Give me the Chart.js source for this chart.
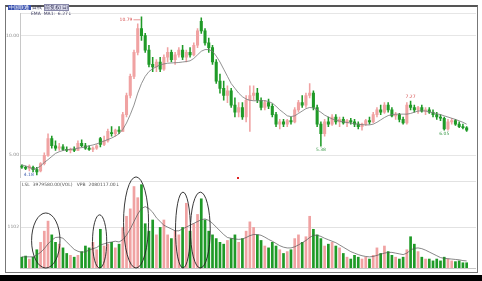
<!DOCTYPE html>
<html>
<head>
<meta charset="utf-8">
<script src="https://cdn.jsdelivr.net/npm/chart.js@4.4.0/dist/chart.umd.min.js"></script>
<style>
body{margin:0;width:482px;height:281px;background:#fff;position:relative;overflow:hidden;font-family:"DejaVu Sans",sans-serif}
#frame{position:absolute;left:5px;top:5px;width:471px;height:265px;border:1px solid #777;border-top:2px solid #555}
#band{position:absolute;left:0;top:275px;width:482px;height:6px;background:#000}
canvas{position:absolute}
#pc{left:5px;top:10px}
#vc{left:5px;top:170px}
.t{position:absolute;font-size:4.5px;line-height:5px;white-space:nowrap}
</style>
</head>
<body>
<div id="frame"></div>
<div id="band"></div>
<canvas id="pc" width="471" height="171"></canvas>
<canvas id="vc" width="471" height="106"></canvas>
<div class="t" style="left:8px;top:5px;color:#335"><span style="background:#3a52b0;color:#fff">&nbsp;中国联通&nbsp;</span> 日线 <span style="border:1px solid #88a;background:#dde">前复权(日)</span></div>
<div class="t" style="left:31px;top:11px;color:#446">EMA&nbsp; MA1:&nbsp; 6.27↓</div>
<div class="t" style="left:22px;top:182px;color:#555">LSL&nbsp; 3979580.00(VOL)&nbsp;&nbsp; VPB&nbsp; 2080117.00↓</div>
<div style="position:absolute;left:237px;top:177px;width:2px;height:2px;background:#d22"></div>
<script>
// daily candles
const opens = [4.55,4.5,4.45,4.5,4.4,4.35,4.65,5.0,5.7,5.4,
  5.3,5.35,5.25,5.2,5.25,5.2,5.5,5.4,5.3,5.25,
  5.3,5.7,5.45,5.6,5.95,5.9,6.05,6.0,6.7,7.5,
  8.3,9.3,10.3,10.0,9.4,8.8,8.7,8.9,8.6,9.1,
  9.3,9.0,9.2,9.4,9.1,9.3,9.2,9.6,10.6,10.2,
  9.7,9.5,8.9,8.1,7.8,7.5,7.7,7.1,6.8,7.0,
  6.6,7.3,7.5,7.6,7.3,7.0,7.2,7.05,6.7,6.3,
  6.4,6.3,6.45,6.4,6.9,7.2,7.1,7.5,7.6,7.0,
  6.3,5.9,6.4,6.3,6.6,6.4,6.5,6.35,6.45,6.4,
  6.3,6.2,6.3,6.45,6.4,6.7,6.9,6.8,7.1,6.9,
  6.65,6.7,6.5,6.35,7.1,7.0,6.9,7.0,6.85,6.9,
  6.8,6.7,6.6,6.55,6.1,6.4,6.45,6.3,6.2,6.15];
const highs = [4.6,4.55,4.6,4.55,4.5,4.7,5.1,5.9,5.8,5.6,
  5.5,5.45,5.35,5.3,5.35,5.6,5.65,5.5,5.4,5.35,
  5.45,5.75,5.8,6.1,6.2,6.1,6.2,6.8,7.6,8.4,
  9.4,10.5,10.79,10.1,9.6,9.1,9.0,9.1,9.2,9.5,
  9.4,9.3,9.5,9.6,9.4,9.5,9.7,10.3,10.75,10.3,
  9.9,9.6,9.0,8.4,8.1,7.9,7.8,7.4,7.2,7.2,
  7.5,7.9,7.9,7.8,7.4,7.3,7.35,7.15,6.8,6.5,
  6.5,6.5,6.6,7.0,7.3,7.5,7.6,8.0,7.7,7.1,
  6.4,6.5,6.6,6.7,6.7,6.6,6.6,6.5,6.55,6.5,
  6.4,6.35,6.5,6.6,6.8,7.0,7.1,7.2,7.2,7.0,
  6.8,6.75,6.6,7.2,7.27,7.1,7.05,7.1,7.0,7.0,
  6.9,6.8,6.7,6.6,6.5,6.55,6.5,6.4,6.3,6.2];
const lows = [4.45,4.4,4.35,4.3,4.18,4.3,4.6,4.95,5.3,5.2,
  5.2,5.2,5.15,5.1,5.15,5.2,5.35,5.25,5.2,5.15,
  5.25,5.35,5.4,5.55,5.8,5.8,5.9,6.0,6.6,7.4,
  8.2,9.2,9.8,9.3,8.7,8.5,8.5,8.5,8.55,8.9,
  8.9,8.8,9.1,9.0,8.9,9.1,9.15,9.5,10.1,9.6,
  9.3,8.8,8.0,7.6,7.3,7.2,7.0,6.6,6.6,6.5,
  6.4,6.0,7.3,7.2,6.9,6.9,6.95,6.6,6.2,6.1,
  6.2,6.2,6.3,6.35,6.8,7.0,7.0,7.4,6.9,6.2,
  5.38,5.8,6.2,6.25,6.3,6.2,6.3,6.2,6.3,6.2,
  6.1,6.05,6.25,6.3,6.35,6.6,6.7,6.75,6.8,6.6,
  6.5,6.4,6.3,6.3,6.9,6.8,6.75,6.8,6.7,6.75,
  6.6,6.5,6.45,6.05,6.05,6.3,6.25,6.15,6.1,6.0];
const closes = [4.5,4.45,4.55,4.4,4.3,4.65,5.0,5.7,5.4,5.3,
  5.35,5.25,5.2,5.25,5.2,5.5,5.4,5.3,5.25,5.3,
  5.4,5.45,5.6,6.0,5.9,6.05,6.0,6.7,7.5,8.3,
  9.3,10.3,10.0,9.4,8.8,8.7,8.9,8.6,9.1,9.3,
  9.0,9.2,9.4,9.1,9.3,9.2,9.6,10.2,10.2,9.7,
  9.5,8.9,8.1,7.8,7.5,7.7,7.1,6.8,7.0,6.6,
  7.3,7.5,7.6,7.3,7.0,7.2,7.05,6.7,6.3,6.4,
  6.3,6.45,6.4,6.9,7.2,7.1,7.5,7.6,7.0,6.3,
  5.9,6.4,6.3,6.6,6.4,6.5,6.35,6.45,6.4,6.3,
  6.2,6.3,6.45,6.4,6.7,6.9,6.8,7.1,6.9,6.65,
  6.7,6.5,6.35,7.1,7.0,6.9,7.0,6.85,6.9,6.8,
  6.7,6.6,6.55,6.1,6.4,6.45,6.3,6.2,6.15,6.05];
const priceMA = [4.6,4.55,4.5,4.42,4.45,4.55,4.7,4.82,4.95,5.08,
  5.15,5.2,5.23,5.25,5.27,5.3,5.32,5.35,5.4,5.43,
  5.48,5.53,5.6,5.66,5.72,5.8,5.9,6.08,6.35,6.7,
  7.1,7.6,8.0,8.3,8.5,8.62,8.7,8.78,8.82,8.85,
  8.86,8.87,8.88,8.9,8.92,8.95,9.05,9.2,9.35,9.42,
  9.42,9.35,9.15,8.9,8.6,8.3,8.0,7.8,7.6,7.45,
  7.35,7.3,7.28,7.28,7.28,7.28,7.25,7.18,7.05,6.9,
  6.78,6.65,6.62,6.65,6.75,6.85,6.95,7.0,6.98,6.9,
  6.8,6.68,6.6,6.52,6.47,6.43,6.4,6.37,6.35,6.32,
  6.3,6.28,6.27,6.27,6.3,6.38,6.48,6.58,6.66,6.7,
  6.72,6.72,6.72,6.72,6.75,6.8,6.85,6.86,6.85,6.82,
  6.78,6.74,6.7,6.65,6.6,6.55,6.5,6.44,6.38,6.3];
const volumes = [300,330,250,300,500,700,1000,1270,900,700,
  650,550,400,350,300,350,450,600,550,700,
  500,1050,600,650,700,550,650,1100,1400,1600,
  2200,1900,2250,1200,1000,1300,900,1100,1300,900,
  800,1000,900,1100,1750,1000,1200,1450,1870,1300,
  1000,900,800,700,650,750,800,900,700,800,
  1000,1250,1100,900,750,600,550,700,600,500,
  400,450,500,800,900,700,850,1400,1050,900,
  800,600,650,700,600,550,400,300,250,350,
  300,250,300,250,350,550,400,600,450,350,
  300,250,300,500,850,650,450,300,250,250,
  200,250,200,300,250,200,180,200,150,150];
const volMA = [300,300,300,300,350,420,520,650,750,820,
  830,800,700,600,500,450,420,440,480,520,
  550,620,650,680,700,720,700,760,880,1050,
  1250,1450,1600,1650,1600,1500,1350,1250,1150,1100,
  1050,1000,1000,1050,1100,1150,1200,1250,1300,1320,
  1280,1200,1100,1000,900,820,800,780,770,780,
  820,870,900,900,880,830,770,720,660,600,
  560,540,540,570,620,680,740,820,880,880,
  850,800,760,720,680,620,560,500,440,400,
  360,330,310,300,310,340,370,400,420,420,
  400,380,360,400,480,530,540,520,480,430,
  380,330,280,260,250,240,230,220,200,190];

const slots = 122;
const tickPos = [0, 21, 45, 70, 94];
const tickText = ['2012/02', '2012/05', '2012/08', '2012/11', '2013/02'];
const labels = Array.from({length: slots}, (_, i) => {
  const k = tickPos.indexOf(i);
  return k >= 0 ? tickText[k] : '';
});

const UP = '#f0a2a2', DOWN = '#1f9a27';
const barColors = closes.map((c, i) => c >= opens[i] ? UP : DOWN);

// highest/lowest marks on the price panel
const marks = [
  {i: 32, kind: 'high'}, {i: 4, kind: 'low'}, {i: 80, kind: 'low'},
  {i: 104, kind: 'high'}, {i: 113, kind: 'low'}
];
// hand drawn ellipses on the volume panel (bar index span, top volume)
const rings = [
  {from: 2.6, to: 10.2, top: 1480},
  {from: 18.9, to: 22.7, top: 1430},
  {from: 27.2, to: 33.9, top: 2450},
  {from: 41.1, to: 45.1, top: 2040},
  {from: 45.1, to: 50.4, top: 2040}
];

const markPlugin = {
  id: 'marks',
  afterDatasetsDraw(chart) {
    const {ctx, scales: {x, y}} = chart;
    ctx.save();
    ctx.font = '4.5px "DejaVu Sans"';
    ctx.textBaseline = 'middle';
    ctx.lineWidth = 0.6;
    marks.forEach(m => {
      const px = x.getPixelForValue(m.i);
      if (m.kind === 'high') {
        const py = y.getPixelForValue(highs[m.i]);
        const txt = highs[m.i].toFixed(2);
        ctx.fillStyle = '#d65050';
        ctx.strokeStyle = '#d65050';
        if (m.i === 32) {
          ctx.textAlign = 'right';
          ctx.fillText(txt, px - 9, py + 3);
          ctx.beginPath(); ctx.moveTo(px - 8, py + 3); ctx.lineTo(px - 1, py + 3); ctx.stroke();
        } else {
          ctx.textAlign = 'center';
          ctx.fillText(txt, px, py - 4);
        }
      } else {
        const py = y.getPixelForValue(lows[m.i]);
        const txt = lows[m.i].toFixed(2);
        if (m.i === 4) {
          ctx.fillStyle = '#4060b0';
          ctx.textAlign = 'right';
          ctx.fillText(txt, px - 3, py);
        } else {
          ctx.fillStyle = '#3b9a4a';
          ctx.textAlign = 'center';
          ctx.fillText(txt, px, py + 4);
        }
      }
    });
    ctx.restore();
  }
};

const ringPlugin = {
  id: 'rings',
  afterDatasetsDraw(chart) {
    const {ctx, scales: {x, y}} = chart;
    ctx.save();
    ctx.strokeStyle = '#222';
    ctx.lineWidth = 0.9;
    rings.forEach(r => {
      const x0 = x.getPixelForValue(r.from), x1 = x.getPixelForValue(r.to);
      const y0 = y.getPixelForValue(r.top), y1 = y.getPixelForValue(0);
      ctx.beginPath();
      ctx.ellipse((x0 + x1) / 2, (y0 + y1) / 2, (x1 - x0) / 2, (y1 - y0) / 2, 0, 0, Math.PI * 2);
      ctx.stroke();
    });
    ctx.restore();
  }
};

const tickFont = {size: 4.5, family: '"DejaVu Sans"'};

new Chart(document.getElementById('pc'), {
  type: 'bar',
  data: {
    labels: labels,
    datasets: [
      {type: 'line', data: priceMA, borderColor: '#777', borderWidth: 0.8, pointRadius: 0, order: 0},
      {data: opens.map((o, i) => [o, closes[i]]), backgroundColor: barColors, barThickness: 2.4,
        minBarLength: 1, grouped: false, order: 1},
      {data: lows.map((l, i) => [l, highs[i]]), backgroundColor: barColors, barThickness: 0.9,
        grouped: false, order: 2}
    ]
  },
  options: {
    responsive: false, animation: false, devicePixelRatio: 1,
    plugins: {legend: {display: false}, tooltip: {enabled: false}},
    layout: {padding: 0},
    scales: {
      x: {display: false, offset: true, grid: {display: false}},
      y: {
        min: 4.08, max: 10.92,
        afterFit(s) { s.width = 15; },
        afterBuildTicks(s) { s.ticks = [{value: 5}, {value: 10}, {value: 10.92}]; },
        ticks: {font: tickFont, color: '#888', padding: 1,
          callback: v => (v === 5 || v === 10) ? v.toFixed(2) : ''},
        grid: {color: '#e6e6e6', drawTicks: false},
        border: {color: '#c8c8c8'}
      }
    }
  },
  plugins: [markPlugin]
});

new Chart(document.getElementById('vc'), {
  type: 'bar',
  data: {
    labels: labels,
    datasets: [
      {type: 'line', data: volMA, borderColor: '#555', borderWidth: 0.7, pointRadius: 0, order: 0},
      {data: volumes, backgroundColor: barColors, barPercentage: 0.72, categoryPercentage: 1, order: 1}
    ]
  },
  options: {
    responsive: false, animation: false, devicePixelRatio: 1,
    plugins: {legend: {display: false}, tooltip: {enabled: false}},
    layout: {padding: {top: 11}},
    scales: {
      x: {
        offset: true,
        afterFit(s) { s.height = 8; },
        grid: {display: false},
        border: {color: '#c8c8c8'},
        ticks: {font: tickFont, color: '#999', autoSkip: false, maxRotation: 0, padding: 1,
          callback: (v, i) => labels[i]}
      },
      y: {
        min: 0, max: 2340,
        afterFit(s) { s.width = 15; },
        afterBuildTicks(s) { s.ticks = [{value: 1102}, {value: 2340}]; },
        ticks: {font: tickFont, color: '#888', padding: 1,
          callback: v => v === 1102 ? '1102' : ''},
        grid: {color: '#e2e2e2', drawTicks: false},
        border: {color: '#c8c8c8'}
      }
    }
  },
  plugins: [ringPlugin]
});
</script>
</body>
</html>
